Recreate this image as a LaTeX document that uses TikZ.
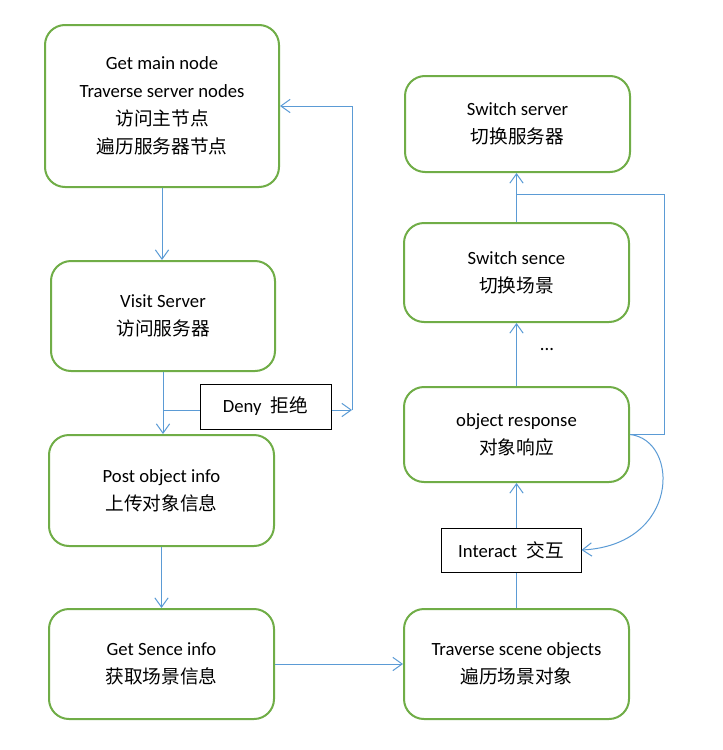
\documentclass[tikz,border=0pt]{standalone}
\usepackage{fontspec}
\setmainfont{Carlito}
\newfontfamily\cjk{Noto Sans CJK SC}
\usetikzlibrary{arrows.meta}
\definecolor{boxgreen}{HTML}{70AD47}
\definecolor{connblue}{HTML}{5B9BD5}
\begin{document}
\begin{tikzpicture}[x=0.75pt,y=-0.75pt,
  every node/.style={font=\fontsize{14}{21}\selectfont},
  box/.style={draw=boxgreen, line width=1.5pt, rounded corners=15pt, fill=white, align=center, inner sep=0pt},
  lbl/.style={draw=black, line width=0.75pt, fill=white, align=center, inner sep=0pt},
  line/.style={draw=connblue, line width=0.75pt},
  conn/.style={line, -{Straight Barb[length=7pt,width=10pt]}}]
\useasboundingbox (0,0) rectangle (723,750);
% boxes
\node[box, minimum width=175.5pt, minimum height=121.5pt] (A) at (162,106)
  {Get main node\\Traverse server nodes\\{\cjk 访问主节点}\\{\cjk 遍历服务器节点}};
\node[box, minimum width=168pt, minimum height=82.5pt] (B) at (163,316)
  {Visit Server\\{\cjk 访问服务器}};
\node[box, minimum width=168.75pt, minimum height=83.25pt] (C) at (161.5,490.5)
  {Post object info\\{\cjk 上传对象信息}};
\node[box, minimum width=168.75pt, minimum height=82.5pt] (D) at (161.5,664)
  {Get Sence info\\{\cjk 获取场景信息}};
\node[box, minimum width=168.75pt, minimum height=82.5pt] (E) at (516.5,664)
  {Traverse scene objects\\{\cjk 遍历场景对象}};
\node[box, minimum width=168.75pt, minimum height=71.25pt] (F) at (516.5,434.5)
  {object response\\{\cjk 对象响应}};
\node[box, minimum width=168.75pt, minimum height=74.25pt] (G) at (516.5,272.5)
  {Switch sence\\{\cjk 切换场景}};
\node[box, minimum width=168.75pt, minimum height=72pt] (H) at (517.5,124)
  {Switch server\\{\cjk 切换服务器}};
% labels
\node[lbl, minimum width=98.25pt, minimum height=33.75pt] (deny) at (265.5,406.5)
  {Deny\hspace{7pt}{\cjk 拒绝}};
\node[lbl, minimum width=105pt, minimum height=33pt] (inter) at (511,550)
  {Interact\hspace{7pt}{\cjk 交互}};
\node (dots) at (547,350) {...};
\coordinate (j) at (352,410);
\coordinate (loop) at (664,194);
% connectors
\draw[conn] (A.south) -- (A.south |- B.north);
\draw[conn] (B.south) -- (B.south |- C.north);
\draw[line] (B.south |- j) -- (j -| deny.west);
\draw[conn] (j -| deny.east) -- (j);
\draw[conn] (j) |- (A.east);
\draw[conn] (C.south) -- (C.south |- D.north);
\draw[conn] (D.east) -- (E.west);
\draw[line] (E.north) -- (E.north |- inter.south);
\draw[conn] (E.north |- inter.north) -- (F.south);
\draw[conn] (F.north) -- (G.south);
\draw[conn] (G.north) -- (G.north |- H.south);
\draw[line] (F.east) -| (loop) -- (G.north |- loop);
\draw[conn] (F.east) .. controls (680,440) and (680,545) .. (inter.east);
\end{tikzpicture}
\end{document}
